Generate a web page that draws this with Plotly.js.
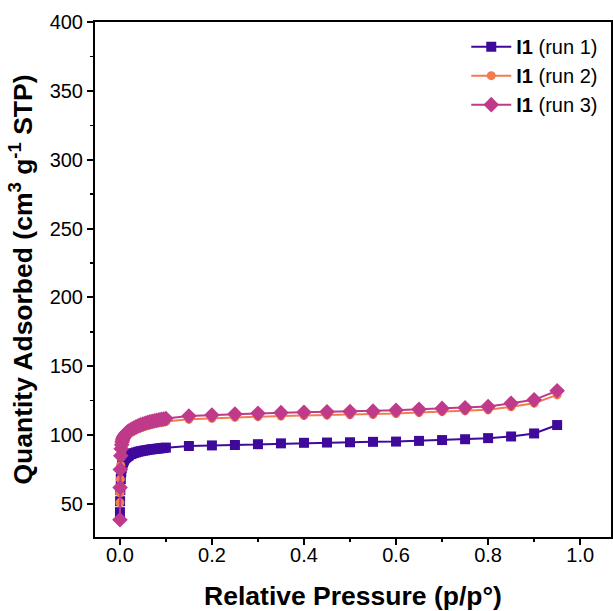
<!DOCTYPE html>
<html>
<head>
<meta charset="utf-8">
<script src="https://cdn.plot.ly/plotly-3.0.1.min.js"></script>
<style>html,body{margin:0;padding:0;background:#fff;}#chart{width:613px;height:611px;}</style>
</head>
<body>
<div id="chart"></div>
<script>
// Relative pressure (p/p°)
const pressure = [0.0002, 0.0005, 0.001, 0.002, 0.003, 0.004, 0.005, 0.006, 0.007, 0.008, 0.009, 0.010,
  0.012, 0.014, 0.016, 0.018, 0.020, 0.025, 0.030, 0.035, 0.040, 0.045, 0.050, 0.055, 0.060, 0.065,
  0.070, 0.075, 0.080, 0.085, 0.090, 0.095, 0.100,
  0.15, 0.20, 0.25, 0.30, 0.35, 0.40, 0.45, 0.50, 0.55, 0.60, 0.65, 0.70, 0.75, 0.80, 0.85, 0.90, 0.95];

const run1 = [44, 52, 60, 68, 73, 76, 78, 79.5, 80.5, 81.3, 82, 82.6,
  83.4, 84, 84.5, 85, 85.4, 86.2, 86.9, 87.4, 87.9, 88.3, 88.6, 88.9, 89.2, 89.5,
  89.7, 89.9, 90.1, 90.3, 90.5, 90.7, 90.9,
  92.1, 92.5, 92.8, 93.4, 94.0, 94.4, 94.6, 94.8, 95.1, 95.3, 95.8, 96.4, 97.0, 97.8, 99.0, 101.2, 107.3];

const run2 = [51, 58, 68, 78, 84, 88, 91, 93, 94.5, 95.6, 96.5, 97.2,
  98.3, 99.1, 99.8, 100.4, 100.9, 102.0, 102.9, 103.8, 104.6, 105.2, 105.8, 106.4, 106.9, 107.4,
  107.8, 108.2, 108.6, 108.9, 109.2, 109.5, 109.8,
  111.5, 112.2, 112.9, 113.4, 113.9, 114.2, 114.5, 114.7, 115.0, 115.6, 116.4, 117.0, 117.6, 118.4, 120.6, 123.2, 129.2];

const run3 = [38.5, 62, 75, 85, 90, 93, 95, 96.5, 97.5, 98.3, 99, 99.6,
  100.6, 101.4, 102, 102.6, 103.1, 104.2, 105.1, 106, 106.8, 107.4, 108, 108.6, 109.1, 109.6,
  110, 110.4, 110.8, 111.1, 111.4, 111.7, 112,
  113.9, 114.6, 115.3, 115.8, 116.3, 116.6, 116.9, 117.1, 117.4, 118.0, 118.7, 119.4, 119.9, 120.7, 123.1, 125.6, 132.2];

const seriesNames = ['<b>I1</b> (run 1)', '<b>I1</b> (run 2)', '<b>I1</b> (run 3)'];
const colors = ['#3f0a9c', '#f27c50', '#bf3a8a'];
const symbols = ['square', 'circle', 'diamond'];
const sizes = [10, 9, 12];
const values = [run1, run2, run3];

const traces = values.map((v, i) => ({
  x: pressure, y: v, type: 'scatter', mode: 'lines+markers',
  name: seriesNames[i],
  line: {color: colors[i], width: 2},
  marker: {color: colors[i], symbol: symbols[i], size: sizes[i]}
}));

const font = {family: 'Arial, "Liberation Sans", sans-serif', color: '#000'};

const layout = {
  width: 613, height: 611,
  margin: {l: 95, r: 2, t: 22, b: 74},
  paper_bgcolor: '#fff', plot_bgcolor: '#fff',
  font: Object.assign({size: 20}, font),
  showlegend: true,
  legend: {x: 0.985, y: 0.99, xanchor: 'right', yanchor: 'top',
    font: Object.assign({size: 20}, font), bgcolor: 'rgba(0,0,0,0)',
    tracegroupgap: 0, itemwidth: 40},
  xaxis: {
    range: [-0.054, 1.067], tickvals: [0, 0.2, 0.4, 0.6, 0.8, 1.0],
    ticktext: ['0.0', '0.2', '0.4', '0.6', '0.8', '1.0'],
    ticks: 'outside', ticklen: 6, tickwidth: 2, tickcolor: '#000',
    ticklabelstandoff: -7,
    minor: {dtick: 0.1, ticks: 'outside', ticklen: 3, tickwidth: 1.5, tickcolor: '#000', showgrid: false},
    showline: true, linewidth: 2, linecolor: '#000', mirror: true,
    showgrid: false, zeroline: false,
    tickfont: Object.assign({size: 20}, font),
    title: {text: '<b>Relative Pressure (p/p°)</b>', font: Object.assign({size: 26.5}, font), standoff: 24}
  },
  yaxis: {
    range: [26, 400], tickvals: [50, 100, 150, 200, 250, 300, 350, 400],
    ticks: 'outside', ticklen: 6, tickwidth: 2, tickcolor: '#000',
    minor: {dtick: 25, ticks: 'outside', ticklen: 3, tickwidth: 1.5, tickcolor: '#000', showgrid: false},
    showline: true, linewidth: 2, linecolor: '#000', mirror: true,
    showgrid: false, zeroline: false,
    tickfont: Object.assign({size: 20}, font),
    title: {text: '<b>Quantity Adsorbed (cm<sup>3</sup> g<sup>-1</sup> STP)</b>', font: Object.assign({size: 26.5}, font), standoff: 9}
  }
};

Plotly.newPlot('chart', traces, layout, {displayModeBar: false, staticPlot: true});
</script>
</body>
</html>
